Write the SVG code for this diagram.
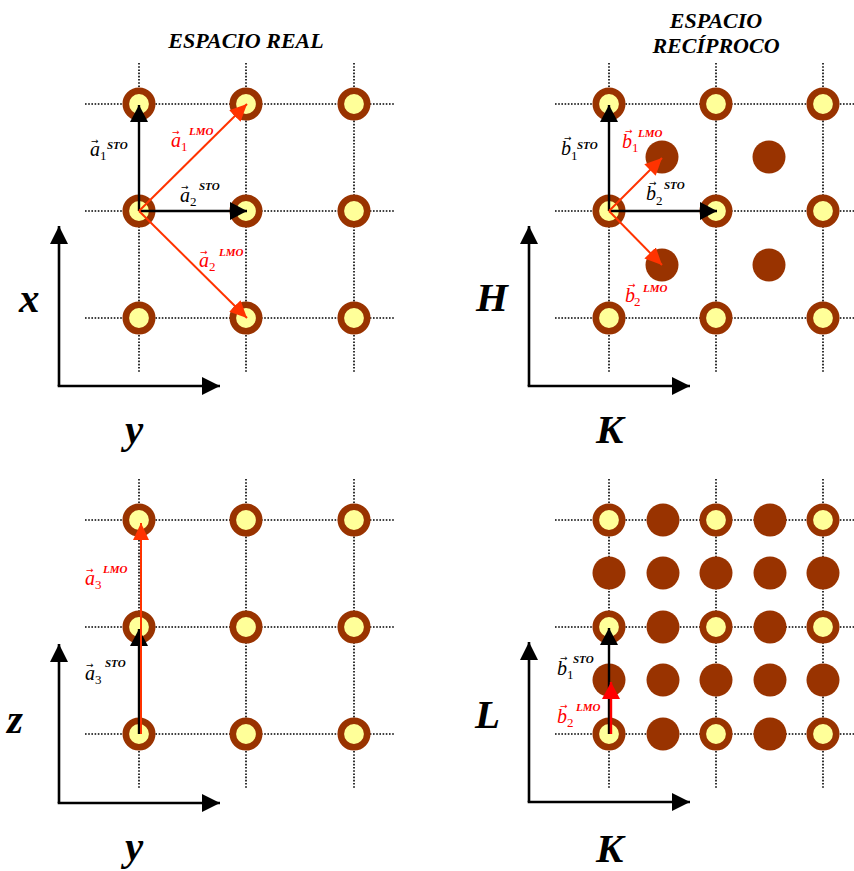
<svg xmlns="http://www.w3.org/2000/svg" width="854" height="871" viewBox="0 0 854 871">
<style>
.grid{stroke:#000;stroke-width:1.6;stroke-dasharray:1.6 1.6;fill:none}
.axis{stroke:#000;stroke-width:2.6;fill:none}
.vk{stroke:#000;stroke-width:2.4;fill:none}
.vr{stroke:#FF3300;stroke-width:2;fill:none}
.vr2{stroke:#FF0000;stroke-width:2.4;fill:none}
.big{font-family:"Liberation Serif","Times New Roman",serif;font-weight:bold;font-style:italic;font-size:41px;fill:#000}
.title{font-family:"Liberation Serif","Times New Roman",serif;font-weight:bold;font-style:italic;font-size:22px;fill:#000;text-anchor:middle}
.lab{font-family:"Liberation Serif","Times New Roman",serif;font-style:italic;font-size:20px}
.sub{font-size:13px;font-style:normal}
.sup{font-size:11px;font-weight:bold}
.ar{font-family:"DejaVu Sans",sans-serif;font-size:9px;font-style:normal}
.k{fill:#000}
.r{fill:#FF0000}
</style>
<defs>
<g id="ring"><circle r="13.2" fill="#FFFF99" stroke="#993300" stroke-width="6.6"/></g>
<g id="dot"><circle r="16.5" fill="#993300"/></g>
<marker id="ak" markerUnits="userSpaceOnUse" markerWidth="20" markerHeight="20" refX="18" refY="9" orient="auto"><path d="M0,0 L18,9 L0,18 z" fill="#000"/></marker>
<marker id="vk" markerUnits="userSpaceOnUse" markerWidth="20" markerHeight="20" refX="17" refY="9" orient="auto"><path d="M0,0 L17,9 L0,18 z" fill="#000"/></marker>
<marker id="vr" markerUnits="userSpaceOnUse" markerWidth="20" markerHeight="20" refX="17" refY="8" orient="auto"><path d="M0,0 L17,8 L0,16 z" fill="#FF3300"/></marker>
<marker id="vr2" markerUnits="userSpaceOnUse" markerWidth="20" markerHeight="20" refX="17" refY="9" orient="auto"><path d="M0,0 L17,9 L0,18 z" fill="#FF0000"/></marker>
</defs>

<g id="grid-lines">
<path class="grid" d="M85,104H395M85,211H395M85,318H395M139,63V373M246,63V373M354,63V373"/>
<path class="grid" d="M555,104H865M555,211H865M555,318H865M609,63V373M716,63V373M823,63V373"/>
<path class="grid" d="M85,520H395M85,627H395M85,734H395M139,479V788M246,479V788M354,479V788"/>
<path class="grid" d="M555,520H865M555,627H865M555,734H865M609,479V788M716,479V788M823,479V788"/>
</g>

<g id="titles">
<text class="title" x="246" y="48">ESPACIO REAL</text>
<text class="title" x="716" y="28">ESPACIO</text>
<text class="title" x="716" y="53">RECÍPROCO</text>
</g>

<g id="nodes-real-xy">
<g id="r1"><use href="#ring" x="139" y="104"/></g>
<g id="r2"><use href="#ring" x="246" y="104"/></g>
<g id="r3"><use href="#ring" x="354" y="104"/></g>
<g id="r4"><use href="#ring" x="139" y="211"/></g>
<g id="r5"><use href="#ring" x="246" y="211"/></g>
<g id="r6"><use href="#ring" x="354" y="211"/></g>
<g id="r7"><use href="#ring" x="139" y="318"/></g>
<g id="r8"><use href="#ring" x="246" y="318"/></g>
<g id="r9"><use href="#ring" x="354" y="318"/></g>
</g>

<g id="nodes-recip-hk">
<g id="h1"><use href="#ring" x="609" y="104"/></g>
<g id="h2"><use href="#ring" x="716" y="104"/></g>
<g id="h3"><use href="#ring" x="823" y="104"/></g>
<g id="h4"><use href="#ring" x="609" y="211"/></g>
<g id="h5"><use href="#ring" x="716" y="211"/></g>
<g id="h6"><use href="#ring" x="823" y="211"/></g>
<g id="h7"><use href="#ring" x="609" y="318"/></g>
<g id="h8"><use href="#ring" x="716" y="318"/></g>
<g id="h9"><use href="#ring" x="823" y="318"/></g>
<g id="hd1"><use href="#dot" x="662" y="157"/></g>
<g id="hd2"><use href="#dot" x="769" y="157"/></g>
<g id="hd3"><use href="#dot" x="662" y="265"/></g>
<g id="hd4"><use href="#dot" x="769" y="265"/></g>
</g>

<g id="nodes-real-zy">
<g id="z1"><use href="#ring" x="139" y="520"/></g>
<g id="z2"><use href="#ring" x="246" y="520"/></g>
<g id="z3"><use href="#ring" x="354" y="520"/></g>
<g id="z4"><use href="#ring" x="139" y="627"/></g>
<g id="z5"><use href="#ring" x="246" y="627"/></g>
<g id="z6"><use href="#ring" x="354" y="627"/></g>
<g id="z7"><use href="#ring" x="139" y="734"/></g>
<g id="z8"><use href="#ring" x="246" y="734"/></g>
<g id="z9"><use href="#ring" x="354" y="734"/></g>
</g>

<g id="nodes-recip-lk">
<g id="l11"><use href="#ring" x="609" y="520"/></g>
<g id="l12"><use href="#dot" x="663" y="520"/></g>
<g id="l13"><use href="#ring" x="716" y="520"/></g>
<g id="l14"><use href="#dot" x="770" y="520"/></g>
<g id="l15"><use href="#ring" x="823" y="520"/></g>
<g id="l21"><use href="#dot" x="609" y="573"/></g>
<g id="l22"><use href="#dot" x="663" y="573"/></g>
<g id="l23"><use href="#dot" x="716" y="573"/></g>
<g id="l24"><use href="#dot" x="770" y="573"/></g>
<g id="l25"><use href="#dot" x="823" y="573"/></g>
<g id="l31"><use href="#ring" x="609" y="627"/></g>
<g id="l32"><use href="#dot" x="663" y="627"/></g>
<g id="l33"><use href="#ring" x="716" y="627"/></g>
<g id="l34"><use href="#dot" x="770" y="627"/></g>
<g id="l35"><use href="#ring" x="823" y="627"/></g>
<g id="l41"><use href="#dot" x="609" y="680"/></g>
<g id="l42"><use href="#dot" x="663" y="680"/></g>
<g id="l43"><use href="#dot" x="716" y="680"/></g>
<g id="l44"><use href="#dot" x="770" y="680"/></g>
<g id="l45"><use href="#dot" x="823" y="680"/></g>
<g id="l51"><use href="#ring" x="609" y="734"/></g>
<g id="l52"><use href="#dot" x="663" y="734"/></g>
<g id="l53"><use href="#ring" x="716" y="734"/></g>
<g id="l54"><use href="#dot" x="770" y="734"/></g>
<g id="l55"><use href="#ring" x="823" y="734"/></g>
</g>

<g id="connectors">
<path class="axis" marker-end="url(#ak)" d="M59,386V226"/>
<path class="axis" d="M57.7,386H220" marker-end="url(#ak)"/>
<path class="axis" marker-end="url(#ak)" d="M529,386V226"/>
<path class="axis" d="M527.7,386H690" marker-end="url(#ak)"/>
<path class="axis" marker-end="url(#ak)" d="M59,803V644"/>
<path class="axis" d="M57.7,803H220" marker-end="url(#ak)"/>
<path class="axis" marker-end="url(#ak)" d="M529,802V642"/>
<path class="axis" d="M527.7,802H690" marker-end="url(#ak)"/>

<path class="vk" marker-end="url(#vk)" d="M139,211V105"/>
<path class="vk" marker-end="url(#vk)" d="M139,211H247"/>
<path class="vr" marker-end="url(#vr)" d="M139,211L247,104"/>
<path class="vr" marker-end="url(#vr)" d="M139,211L247,318"/>

<path class="vk" marker-end="url(#vk)" d="M609,211V105"/>
<path class="vk" marker-end="url(#vk)" d="M609,211H717"/>
<path class="vr" marker-end="url(#vr)" d="M609,211L662,158"/>
<path class="vr" marker-end="url(#vr)" d="M609,211L662,265"/>

<path class="vk" marker-end="url(#vk)" d="M139,734V629"/>
<path class="vr" marker-end="url(#vr)" d="M141,734V523"/>

<path class="vk" marker-end="url(#vk)" d="M609,734V628"/>
<path class="vr2" marker-end="url(#vr2)" d="M611,734V682"/>
</g>

<g id="axis-labels">
<text class="big" x="19" y="312">x</text>
<text class="big" x="125" y="443">y</text>
<text class="big" x="476" y="311">H</text>
<text class="big" x="596" y="443">K</text>
<text class="big" x="7" y="733">z</text>
<text class="big" x="125" y="860">y</text>
<text class="big" x="475" y="728">L</text>
<text class="big" x="596" y="862">K</text>
</g>

<g id="vector-labels">
<text class="lab k"><tspan x="90" y="156">a</tspan><tspan class="ar" x="91" y="144">→</tspan><tspan class="sub" x="100" y="160">1</tspan><tspan class="sup" x="107" y="149">STO</tspan></text>
<text class="lab k"><tspan x="180" y="202">a</tspan><tspan class="ar" x="181" y="190">→</tspan><tspan class="sub" x="190" y="206">2</tspan><tspan class="sup" x="199" y="190">STO</tspan></text>
<text class="lab r"><tspan x="171" y="147">a</tspan><tspan class="ar" x="172" y="135">→</tspan><tspan class="sub" x="181" y="151">1</tspan><tspan class="sup" x="189" y="135">LMO</tspan></text>
<text class="lab r"><tspan x="199" y="267">a</tspan><tspan class="ar" x="200" y="255">→</tspan><tspan class="sub" x="209" y="271">2</tspan><tspan class="sup" x="219" y="256">LMO</tspan></text>

<text class="lab k"><tspan x="561" y="155">b</tspan><tspan class="ar" x="564" y="141">→</tspan><tspan class="sub" x="571" y="160">1</tspan><tspan class="sup" x="577" y="149">STO</tspan></text>
<text class="lab r"><tspan x="622" y="148">b</tspan><tspan class="ar" x="625" y="134">→</tspan><tspan class="sub" x="632" y="152">1</tspan><tspan class="sup" x="638" y="137">LMO</tspan></text>
<text class="lab k"><tspan x="646" y="200">b</tspan><tspan class="ar" x="649" y="186">→</tspan><tspan class="sub" x="656" y="205">2</tspan><tspan class="sup" x="664" y="189">STO</tspan></text>
<text class="lab r"><tspan x="625" y="302">b</tspan><tspan class="ar" x="628" y="288">→</tspan><tspan class="sub" x="634" y="306">2</tspan><tspan class="sup" x="643" y="292">LMO</tspan></text>

<text class="lab r"><tspan x="85" y="585">a</tspan><tspan class="ar" x="86" y="573">→</tspan><tspan class="sub" x="95" y="589">3</tspan><tspan class="sup" x="103" y="573">LMO</tspan></text>
<text class="lab k"><tspan x="85" y="680">a</tspan><tspan class="ar" x="86" y="668">→</tspan><tspan class="sub" x="95" y="684">3</tspan><tspan class="sup" x="105" y="667">STO</tspan></text>

<text class="lab k"><tspan x="557" y="675">b</tspan><tspan class="ar" x="560" y="661">→</tspan><tspan class="sub" x="567" y="679">1</tspan><tspan class="sup" x="573" y="663">STO</tspan></text>
<text class="lab r"><tspan x="557" y="723">b</tspan><tspan class="ar" x="560" y="709">→</tspan><tspan class="sub" x="567" y="727">2</tspan><tspan class="sup" x="576" y="711">LMO</tspan></text>
</g>
</svg>
